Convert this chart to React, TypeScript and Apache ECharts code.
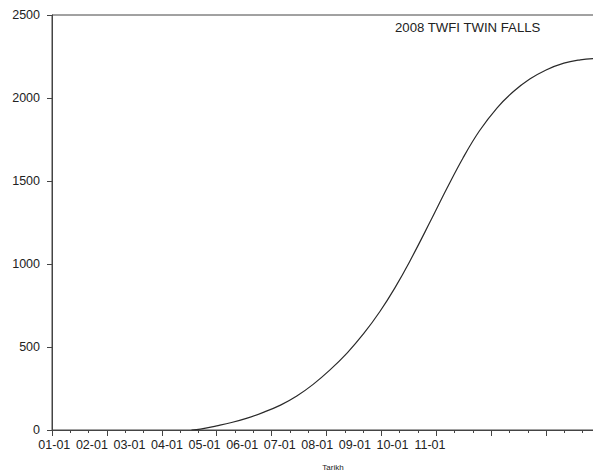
import React, { useEffect, useRef } from "react";
import * as echarts from "echarts";

// Day of year (2008) and cumulative value
const days = [94, 100, 111, 121, 131, 142, 154, 165, 176, 187, 199, 210, 221, 231, 241, 255, 266, 277, 288, 300, 311, 322, 333, 345, 356, 365];
const values = [0, 5, 25, 45, 70, 105, 150, 205, 275, 359, 465, 580, 714, 855, 1014, 1257, 1453, 1639, 1801, 1941, 2039, 2114, 2169, 2210, 2230, 2238];
const dateLabels = ["01-01", "02-01", "03-01", "04-01", "05-01", "06-01", "07-01", "08-01", "09-01", "10-01", "11-01"];
const yTicks = [0, 500, 1000, 1500, 2000, 2500];
const titleText = "2008 TWFI TWIN FALLS";
const xName = "Tarikh";

const FONT = "'Liberation Sans', Arial, sans-serif";

export default function App() {
  const ref = useRef<HTMLDivElement>(null);
  useEffect(() => {
    if (!ref.current) return;
    const chart = echarts.init(ref.current, undefined, { renderer: "svg" });
    const axisColor = "#444";
    chart.setOption({
      animation: false,
      backgroundColor: "#fff",
      textStyle: { fontFamily: FONT },
      title: {
        text: titleText,
        left: 395,
        top: 21,
        padding: 0,
        textStyle: { fontSize: 13.2, fontWeight: "normal", color: "#222", fontFamily: FONT },
      },
      grid: {
        left: 52,
        right: -8,
        top: 15,
        bottom: 42,
        containLabel: false,
        outerBoundsMode: "none",
        show: true,
        borderColor: axisColor,
        borderWidth: 1,
        backgroundColor: "transparent",
      },
      xAxis: [
        {
          type: "value",
          min: 0,
          max: 370,
          interval: 37,
          position: "bottom",
          name: xName,
          nameLocation: "middle",
          nameGap: 33,
          nameTextStyle: { fontSize: 8, color: "#222", fontFamily: FONT, padding: [0, 0, 0, 13] },
          axisLine: { show: true, lineStyle: { color: axisColor, width: 1 } },
          axisTick: { show: true, length: 6, lineStyle: { color: axisColor } },
          minorTick: { show: true, splitNumber: 3, length: 3, lineStyle: { color: axisColor } },
          axisLabel: { show: false },
          splitLine: { show: false },
        },
        {
          type: "value",
          min: 0,
          max: 549 / 37.57,
          interval: 1,
          position: "bottom",
          axisLine: { show: false },
          axisTick: { show: false },
          splitLine: { show: false },
          axisLabel: {
            show: true,
            margin: 8,
            fontSize: 12.5,
            color: "#222",
            fontFamily: FONT,
            padding: [0, 0, 0, 4.6],
            showMaxLabel: false,
            formatter: (v: number) => {
              const i = Math.round(v);
              return Math.abs(v - i) < 1e-6 && i >= 0 && i < dateLabels.length ? dateLabels[i] : "";
            },
          },
        },
      ],
      yAxis: {
        type: "value",
        min: yTicks[0],
        max: yTicks[yTicks.length - 1],
        interval: 500,
        axisLine: { show: true, lineStyle: { color: axisColor, width: 1 } },
        axisTick: { show: true, length: 5, lineStyle: { color: axisColor } },
        axisLabel: {
          margin: 12,
          fontSize: 12.5,
          color: "#222",
          fontFamily: FONT,
          formatter: (v: number) => String(v),
        },
        splitLine: { show: false },
      },
      series: [
        {
          type: "line",
          xAxisIndex: 0,
          data: days.map((d, i) => [d, values[i]]),
          smooth: 0.4,
          showSymbol: false,
          symbol: "none",
          lineStyle: { color: "#2a2a2a", width: 1.2 },
        },
      ],
    });
    return () => chart.dispose();
  }, []);
  return <div ref={ref} style={{ position: "absolute", left: 0, top: 0, width: 593, height: 472 }} />;
}
